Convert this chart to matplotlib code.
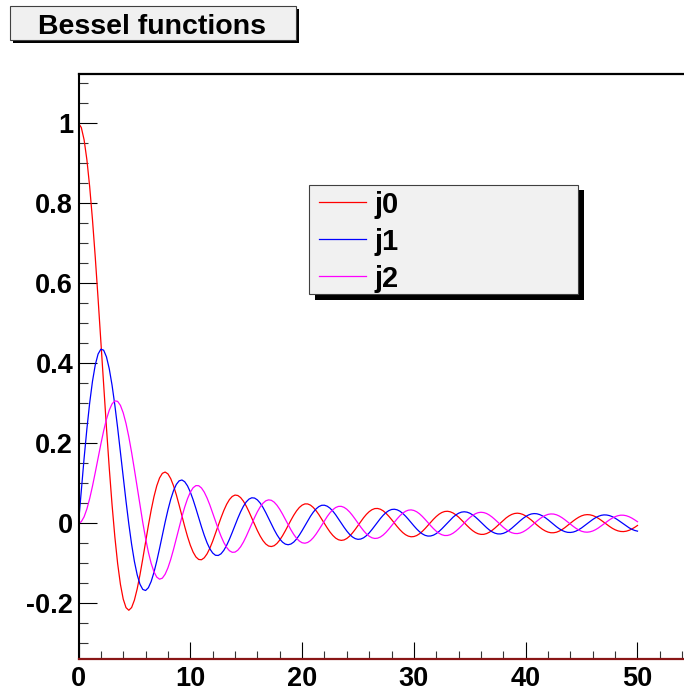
import numpy as np
import matplotlib
matplotlib.use("Agg")
import matplotlib.pyplot as plt
from matplotlib.patches import Rectangle
from matplotlib.ticker import MultipleLocator, FixedLocator, FixedFormatter

plt.rcParams['font.family'] = ['Liberation Sans', 'DejaVu Sans']
plt.rcParams['axes.unicode_minus'] = False

# ---------------- data (sampled every 0.25 from 0 to 50) ----------------
x_vals = np.linspace(0, 50, 201)

j0_vals = [
    1.0, 0.9896, 0.9589, 0.9089, 0.8415, 0.7592, 0.6650, 0.5623, 0.4546, 0.3458,
    0.2394, 0.1388, 0.0470, -0.0333, -0.1002, -0.1524, -0.1892, -0.2106, -0.2172, -0.2104,
    -0.1918, -0.1636, -0.1283, -0.0884, -0.0466, -0.0053, 0.0331, 0.0667, 0.0939, 0.1135,
    0.1251, 0.1283, 0.1237, 0.1118, 0.0939, 0.0714, 0.0458, 0.0188, -0.0079, -0.0328,
    -0.0544, -0.0717, -0.0838, -0.0902, -0.0909, -0.0860, -0.0761, -0.0620, -0.0447, -0.0254,
    -0.0053, 0.0143, 0.0323, 0.0477, 0.0595, 0.0673, 0.0708, 0.0697, 0.0645, 0.0555,
    0.0434, 0.0290, 0.0133, -0.0027, -0.0180, -0.0317, -0.0431, -0.0515, -0.0566, -0.0579,
    -0.0558, -0.0502, -0.0417, -0.0309, -0.0185, -0.0053, 0.0079, 0.0203, 0.0311, 0.0397,
    0.0456, 0.0487, 0.0486, 0.0456, 0.0398, 0.0318, 0.0219, 0.0110, -0.0004, -0.0115,
    -0.0217, -0.0302, -0.0368, -0.0409, -0.0425, -0.0414, -0.0377, -0.0319, -0.0241, -0.0151,
    -0.0053, 0.0046, 0.0141, 0.0225, 0.0293, 0.0342, 0.0370, 0.0373, 0.0354, 0.0314,
    0.0254, 0.0180, 0.0097, 0.0009, -0.0079, -0.0159, -0.0229, -0.0283, -0.0319, -0.0335,
    -0.0329, -0.0304, -0.0260, -0.0201, -0.0130, -0.0053, 0.0027, 0.0103, 0.0172, 0.0230,
    0.0272, 0.0297, 0.0303, 0.0290, 0.0260, 0.0214, 0.0156, 0.0088, 0.0017, -0.0055,
    -0.0122, -0.0181, -0.0228, -0.0260, -0.0275, -0.0274, -0.0255, -0.0221, -0.0174, -0.0117,
    -0.0053, 0.0013, 0.0078, 0.0137, 0.0186, 0.0224, 0.0247, 0.0255, 0.0246, 0.0223,
    0.0186, 0.0138, 0.0083, 0.0022, -0.0039, -0.0096, -0.0148, -0.0189, -0.0218, -0.0234,
    -0.0234, -0.0221, -0.0193, -0.0155, -0.0107, -0.0053, 0.0004, 0.0060, 0.0111, 0.0155,
    0.0189, 0.0211, 0.0219, 0.0214, 0.0196, 0.0166, 0.0126, 0.0078, 0.0026, -0.0027,
    -0.0077, -0.0123, -0.0160, -0.0187, -0.0202, -0.0205, -0.0195, -0.0173, -0.0140, -0.0099,
    -0.0052]

j1_vals = [
    0.0, 0.0828, 0.1625, 0.2362, 0.3012, 0.3551, 0.3962, 0.4232, 0.4354, 0.4329,
    0.4162, 0.3866, 0.3457, 0.2956, 0.2389, 0.1782, 0.1161, 0.0554, -0.0014, -0.0522,
    -0.0951, -0.1287, -0.1522, -0.1651, -0.1678, -0.1608, -0.1452, -0.1224, -0.0943, -0.0627,
    -0.0295, 0.0032, 0.0336, 0.0603, 0.0819, 0.0974, 0.1063, 0.1085, 0.1041, 0.0938,
    0.0785, 0.0592, 0.0373, 0.0142, -0.0087, -0.0300, -0.0486, -0.0636, -0.0740, -0.0797,
    -0.0802, -0.0760, -0.0673, -0.0549, -0.0397, -0.0226, -0.0047, 0.0128, 0.0289, 0.0428,
    0.0535, 0.0607, 0.0640, 0.0633, 0.0587, 0.0508, 0.0400, 0.0270, 0.0129, -0.0017,
    -0.0157, -0.0284, -0.0390, -0.0469, -0.0518, -0.0534, -0.0516, -0.0468, -0.0392, -0.0294,
    -0.0181, -0.0060, 0.0063, 0.0178, 0.0280, 0.0362, 0.0420, 0.0452, 0.0454, 0.0429,
    0.0379, 0.0306, 0.0216, 0.0114, 0.0008, -0.0096, -0.0192, -0.0275, -0.0339, -0.0381,
    -0.0399, -0.0391, -0.0360, -0.0308, -0.0238, -0.0154, -0.0062, 0.0031, 0.0121, 0.0202,
    0.0269, 0.0318, 0.0347, 0.0354, 0.0339, 0.0304, 0.0250, 0.0182, 0.0104, 0.0021,
    -0.0062, -0.0140, -0.0208, -0.0262, -0.0299, -0.0317, -0.0315, -0.0294, -0.0255, -0.0201,
    -0.0136, -0.0063, 0.0013, 0.0087, 0.0154, 0.0211, 0.0254, 0.0281, 0.0290, 0.0281,
    0.0255, 0.0213, 0.0159, 0.0096, 0.0028, -0.0041, -0.0106, -0.0165, -0.0212, -0.0245,
    -0.0263, -0.0264, -0.0249, -0.0219, -0.0176, -0.0122, -0.0062, 0.0001, 0.0064, 0.0122,
    0.0171, 0.0210, 0.0235, 0.0245, 0.0240, 0.0220, 0.0187, 0.0143, 0.0090, 0.0033,
    -0.0026, -0.0083, -0.0134, -0.0176, -0.0206, -0.0224, -0.0227, -0.0217, -0.0193, -0.0157,
    -0.0113, -0.0061, -0.0007, 0.0047, 0.0098, 0.0142, 0.0177, 0.0201, 0.0212, 0.0209,
    0.0194, 0.0167, 0.0130, 0.0085, 0.0036, -0.0016, -0.0065, -0.0111, -0.0149, -0.0177,
    -0.0194]

j2_vals = [
    0.0, 0.0042, 0.0164, 0.0360, 0.0620, 0.0930, 0.1273, 0.1631, 0.1984, 0.2314,
    0.2601, 0.2829, 0.2986, 0.3062, 0.3050, 0.2950, 0.2763, 0.2497, 0.2163, 0.1774,
    0.1347, 0.0901, 0.0453, 0.0022, -0.0373, -0.0719, -0.1001, -0.1211, -0.1343, -0.1395,
    -0.1369, -0.1271, -0.1111, -0.0899, -0.0650, -0.0380, -0.0103, 0.0164, 0.0408, 0.0616,
    0.0779, 0.0890, 0.0944, 0.0942, 0.0885, 0.0780, 0.0634, 0.0458, 0.0262, 0.0059,
    -0.0140, -0.0322, -0.0479, -0.0601, -0.0684, -0.0723, -0.0718, -0.0670, -0.0585, -0.0468,
    -0.0326, -0.0170, -0.0009, 0.0147, 0.0290, 0.0411, 0.0504, 0.0564, 0.0588, 0.0577,
    0.0531, 0.0454, 0.0352, 0.0232, 0.0101, -0.0032, -0.0160, -0.0275, -0.0371, -0.0441,
    -0.0484, -0.0496, -0.0477, -0.0430, -0.0358, -0.0267, -0.0161, -0.0048, 0.0066, 0.0173,
    0.0267, 0.0343, 0.0396, 0.0424, 0.0426, 0.0401, 0.0353, 0.0285, 0.0200, 0.0105,
    0.0005, -0.0093, -0.0183, -0.0261, -0.0321, -0.0360, -0.0377, -0.0370, -0.0341, -0.0291,
    -0.0225, -0.0146, -0.0060, 0.0029, 0.0114, 0.0191, 0.0255, 0.0302, 0.0330, 0.0337,
    0.0323, 0.0290, 0.0240, 0.0175, 0.0101, 0.0022, -0.0057, -0.0131, -0.0196, -0.0248,
    -0.0284, -0.0303, -0.0302, -0.0283, -0.0246, -0.0195, -0.0133, -0.0064, 0.0009, 0.0079,
    0.0144, 0.0199, 0.0241, 0.0268, 0.0278, 0.0270, 0.0247, 0.0208, 0.0157, 0.0097,
    0.0032, -0.0034, -0.0098, -0.0154, -0.0200, -0.0233, -0.0252, -0.0255, -0.0242, -0.0214,
    -0.0173, -0.0123, -0.0065, -0.0004, 0.0056, 0.0112, 0.0161, 0.0199, 0.0225, 0.0236,
    0.0233, 0.0215, 0.0184, 0.0142, 0.0092, 0.0037, -0.0020, -0.0074, -0.0124, -0.0166,
    -0.0197, -0.0215, -0.0220, -0.0211, -0.0190, -0.0157, -0.0114, -0.0065, -0.0013, 0.0040,
    0.0090, 0.0133, 0.0168, 0.0192, 0.0205, 0.0204, 0.0191, 0.0166, 0.0131, 0.0088,
    0.0041]

series_names = ['j0', 'j1', 'j2']
series_colors = ['#ff0000', '#0000ff', '#ff00ff']
title_text = 'Bessel functions'

x_major = [0, 10, 20, 30, 40, 50]
x_major_labels = ['0', '10', '20', '30', '40', '50']
y_major = [-0.2, 0.0, 0.2, 0.4, 0.6, 0.8, 1.0]
y_major_labels = ['-0.2', '0', '0.2', '0.4', '0.6', '0.8', '1']

# ---------------- figure ----------------
W, H = 684, 692
fig = plt.figure(figsize=(W / 100, H / 100), dpi=100)
fig.patch.set_facecolor('white')

def fx(px):
    return px / W

def fy(py):
    return 1 - py / H

ax_left, ax_right_px = 78.5, 78.5 + 55 * 11.18
ax_top, ax_bot = 74, 659
ax = fig.add_axes([fx(ax_left), fy(ax_bot), (ax_right_px - ax_left) / W, (ax_bot - ax_top) / H])
ax.set_xlim(0, 55)
ax.set_ylim(-0.339, 1.1233)
ax.set_facecolor('white')

for name, vals, col in zip(series_names, [j0_vals, j1_vals, j2_vals], series_colors):
    ax.plot(x_vals, vals, color=col, lw=0.9, solid_joinstyle='round')

ax.spines['left'].set_linewidth(1.5)
ax.spines['top'].set_linewidth(1.6)
ax.spines['right'].set_visible(False)
ax.spines['bottom'].set_linewidth(1.6)
ax.spines['bottom'].set_color('#8a1616')

ax.xaxis.set_major_locator(FixedLocator(x_major))
ax.xaxis.set_major_formatter(FixedFormatter(x_major_labels))
ax.xaxis.set_minor_locator(MultipleLocator(2))
ax.yaxis.set_major_locator(FixedLocator(y_major))
ax.yaxis.set_major_formatter(FixedFormatter(y_major_labels))
ax.yaxis.set_minor_locator(MultipleLocator(0.05))

ax.tick_params(axis='x', which='major', direction='in', length=12.2, width=0.8,
               color='black', pad=5, labelsize=19.5, top=False)
ax.tick_params(axis='x', which='minor', direction='in', length=6, width=0.8,
               color='#333333', top=False)
ax.tick_params(axis='y', which='major', direction='in', length=13, width=0.8,
               color='black', pad=3.8, labelsize=19.5, right=False)
ax.tick_params(axis='y', which='minor', direction='in', length=6.5, width=0.8,
               color='#333333', right=False)
for lab in ax.get_xticklabels() + ax.get_yticklabels():
    lab.set_fontweight('bold')

# ---------------- title box ----------------
def box(x0, y0, x1, y1, shadow, fill, edge):
    fig.patches.append(Rectangle((fx(x0 + shadow), fy(y1 + shadow)), (x1 - x0) / W, (y1 - y0) / H,
                                 transform=fig.transFigure, facecolor='black', edgecolor='none', zorder=5))
    fig.patches.append(Rectangle((fx(x0), fy(y1)), (x1 - x0) / W, (y1 - y0) / H,
                                 transform=fig.transFigure, facecolor=fill, edgecolor=edge,
                                 linewidth=0.8, zorder=6))

box(9.5, 5.5, 295.5, 40, 3, '#f0f0f0', '#404040')
fig.text(fx(152), fy(33.5), title_text, ha='center', va='baseline', fontsize=20.5,
         fontweight='bold', color='black', zorder=7)

# ---------------- legend ----------------
box(308.5, 184.5, 577.5, 294, 6, '#f1f1f1', '#404040')
legend_y = [202, 239, 276]
for name, col, ly in zip(series_names, series_colors, legend_y):
    fig.add_artist(plt.Line2D([fx(319), fx(366)], [fy(ly), fy(ly)], transform=fig.transFigure,
                              color=col, lw=0.9, zorder=8))
    fig.text(fx(374.5), fy(ly + 11), name, ha='left', va='baseline', fontsize=21,
             fontweight='bold', color='black', zorder=8)

fig.savefig('out.png', dpi=100)
